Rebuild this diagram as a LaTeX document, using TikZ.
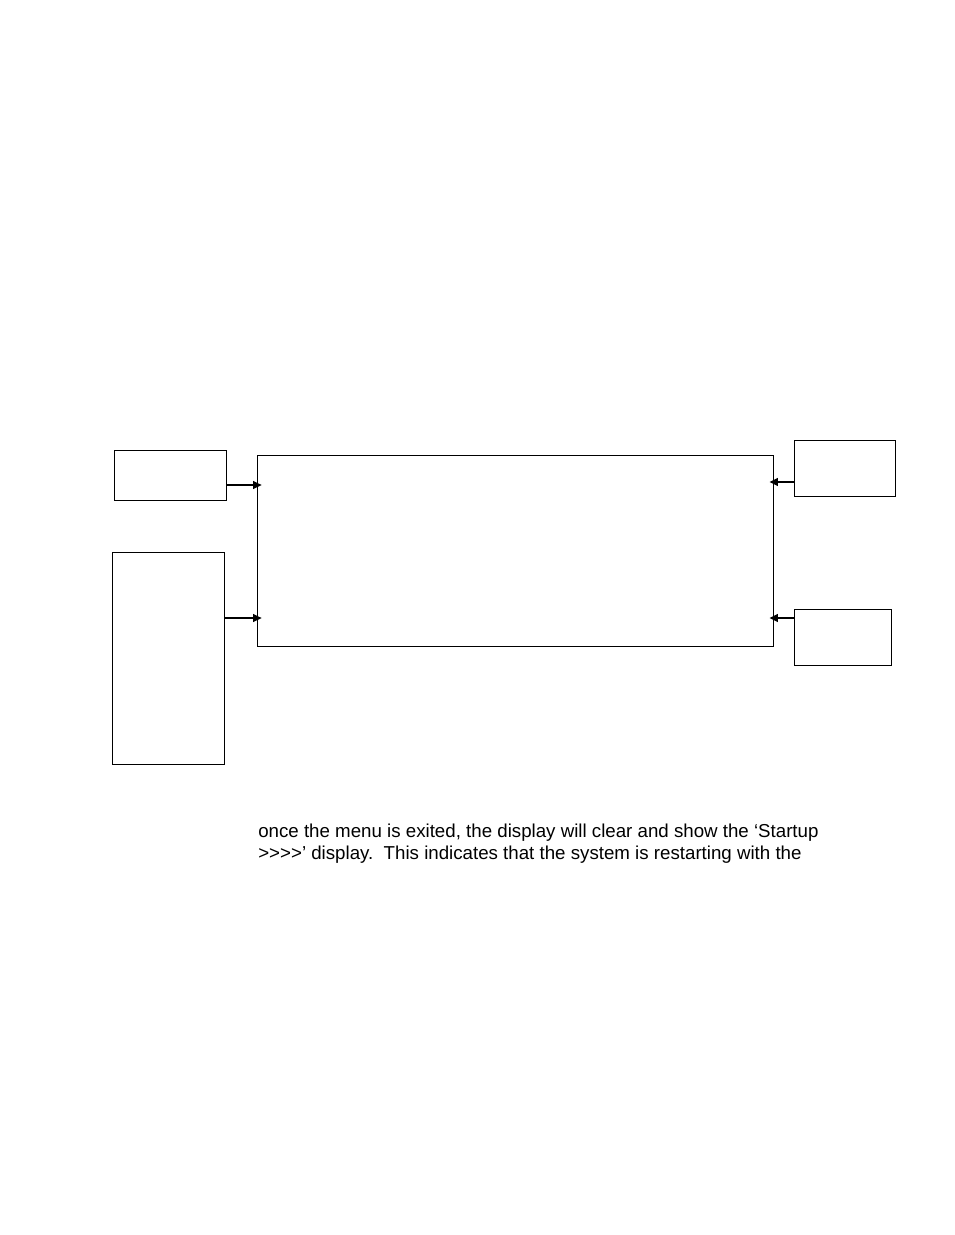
\documentclass[tikz,border=0pt]{standalone}
\usepackage{fontspec}
\setmainfont{Liberation Sans}
\usetikzlibrary{arrows.meta}
\newdimen\pxu \pxu=0.6417pt
\tikzset{
  box/.style={draw, line width=0.7pt, inner sep=0pt, anchor=north west},
  arr/.style={line width=1.1pt, -{Triangle[length=5.5pt,width=5pt]}, shorten >=-3pt},
  txt/.style={anchor=base west, inner sep=0pt, font=\fontsize{12pt}{14pt}\selectfont}
}
\begin{document}
\begin{tikzpicture}[x=0.6417pt,y=0.6417pt,yscale=-1,xscale=1]
\useasboundingbox (0,0) rectangle (954,1235);

%Shape: Rectangle [main]
\node [box, minimum width=516\pxu, minimum height=191\pxu] (main) at (257,455) {};
%Shape: Rectangle [left top]
\node [box, minimum width=112\pxu, minimum height=50\pxu] (ltop) at (114,450) {};
%Shape: Rectangle [left bottom]
\node [box, minimum width=112\pxu, minimum height=212\pxu] (lbot) at (112,552) {};
%Shape: Rectangle [right top]
\node [box, minimum width=101\pxu, minimum height=56\pxu] (rtop) at (794,440) {};
%Shape: Rectangle [right bottom]
\node [box, minimum width=97\pxu, minimum height=56\pxu] (rbot) at (794,609) {};

%Straight Lines
\coordinate (a1) at (226,485);
\coordinate (a2) at (224,618);
\coordinate (a3) at (794,482);
\coordinate (a4) at (794,618);
\draw [arr] (ltop.east |- a1) -- (main.west |- a1);
\draw [arr] (lbot.east |- a2) -- (main.west |- a2);
\draw [arr] (rtop.west |- a3) -- (main.east |- a3);
\draw [arr] (rbot.west |- a4) -- (main.east |- a4);

% Text Node
\node [txt] (t1) at (258,837) {once the menu is exited, the display will clear and show the ‘Startup};
% Text Node
\node [txt] (t2) at (258,859) {>\kern0pt>\kern0pt>\kern0pt>’ display.\ \ This indicates that the system is restarting with the};
\end{tikzpicture}
\end{document}
